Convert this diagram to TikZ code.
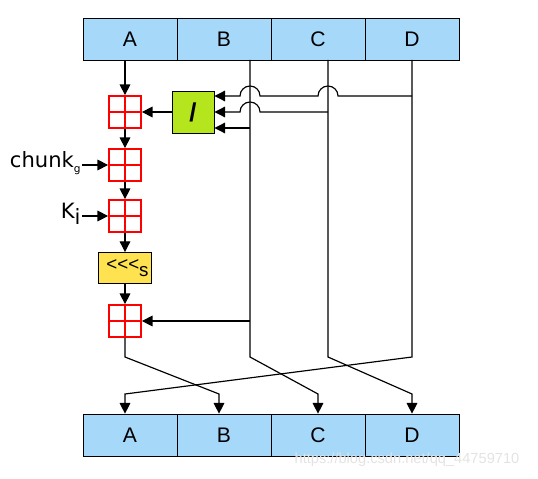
\documentclass[tikz,border=0pt]{standalone}
\usepackage{fontspec}
\setmainfont{Liberation Sans}
\newfontfamily\labelfont{DejaVu Sans}
\usepackage{xcolor}
\usepackage{tikz}
\usetikzlibrary{positioning,calc,arrows.meta}
\definecolor{cellblue}{RGB}{166,216,250}
\definecolor{divgreen}{RGB}{181,230,29}
\definecolor{rotyellow}{RGB}{255,226,80}

\begin{document}
\begin{tikzpicture}[
					x=0.03cm, y=-0.03cm,
					cell/.style={draw, fill=cellblue, line width=0.6pt, minimum width=2.82cm, minimum height=1.26cm, inner sep=0pt, font=\fontsize{18}{20}\selectfont},
					xorbox/.style={draw=red, line width=1.5pt, minimum size=0.96cm, inner sep=0pt, fill=white,
						path picture={\draw[red, line width=1.5pt] (path picture bounding box.north) -- (path picture bounding box.south) (path picture bounding box.west) -- (path picture bounding box.east);}},
					divbox/.style={draw, fill=divgreen, line width=0.8pt, minimum size=1.26cm, inner sep=0pt, font=\bfseries\fontsize{22}{24}\selectfont},
					rotbox/.style={draw, fill=rotyellow, line width=0.8pt, minimum width=1.59cm, minimum height=0.93cm, inner sep=0pt, font=\fontsize{16}{18}\selectfont},
					arrow/.style={-{Triangle[length=0.32cm, width=0.32cm]}, line width=1pt},
					labeltext/.style={font=\labelfont\fontsize{18}{20}\selectfont, inner sep=1pt}
					]
					\useasboundingbox (0,0) rectangle (538,478);
					
					% ===== TOP BAR =====
					\node[cell] (ta) at (130,39) {A};
					\node[cell] (tb) at (224,39) {B};
					\node[cell] (tc) at (318,39) {C};
					\node[cell] (td) at (412,39) {D};
					
					% ===== BOTTOM BAR =====
					\node[cell] (ba) at (130,435) {A};
					\node[cell] (bb) at (224,435) {B};
					\node[cell] (bc) at (318,435) {C};
					\node[cell] (bd) at (412,435) {D};
					
					% ===== A CHAIN =====
					\node[xorbox] (xor1) at (125,112) {};
					\node[xorbox] (xor2) at (125,165) {};
					\node[xorbox] (xor3) at (125,216) {};
					\node[rotbox] (rot)  at (125,268) {\hspace{0.15cm}<{}<{}<\raisebox{-0.55ex}{s}};
					\node[xorbox] (xor4) at (125,321) {};
					\node[divbox] (div)  at (193,112) {/};
					
					\node[labeltext, anchor=east] (chunk) at (82,163) {chunk\raisebox{-0.45ex}{\fontsize{9}{9}\selectfont g}};
					\node[labeltext, anchor=east] (key)   at (82,214) {K\raisebox{-0.5ex}{i}};
					
					% ===== WIRE POINTS =====
					\coordinate (b0) at (250,60);  \coordinate (b1) at (250,357); \coordinate (b2) at (318,394);
					\coordinate (c0) at (328,60);  \coordinate (c1) at (328,357); \coordinate (c2) at (412,394);
					\coordinate (d0) at (412,60);  \coordinate (d1) at (412,357); \coordinate (d2) at (125,394);
					\coordinate (a1) at (125,357); \coordinate (a2) at (219,394);
					\coordinate (in1) at ($(div.east)+(0,-16)$);
					\coordinate (in2) at (div.east);
					\coordinate (in3) at ($(div.east)+(0,16)$);
					
					% ===== ARROWS =====
					\draw[arrow] (xor1 |- ta.south) -- (xor1);
					\draw[arrow] (div) -- (xor1);
					\draw[arrow] (xor1) -- (xor2);
					\draw[arrow] (xor2) -- (xor3);
					\draw[arrow] (xor3) -- (rot);
					\draw[arrow] (rot) -- (xor4);
					\draw[arrow] (chunk.east |- xor2) -- (xor2);
					\draw[arrow] (key.east |- xor3) -- (xor3);
					
					\draw[arrow] (xor4) -- (a1) -- (a2) -- (a2 |- bb.north);
					\draw[arrow] (b0) -- (b1) -- (b2) -- (b2 |- bc.north);
					\draw[arrow] (c0) -- (c1) -- (c2) -- (c2 |- bd.north);
					\draw[arrow] (d0) -- (d1) -- (d2) -- (d2 |- ba.north);
					
					% ===== INTO DIVISION (with jumps) =====
					\draw[arrow] (b0 |- in3) -- (in3);
					\draw[arrow] (c0 |- in2) -- ($(b0 |- in2)+(10,0)$) arc[start angle=0, end angle=180, radius=0.3cm] -- (in2);
					\draw[arrow] (d0 |- in1) -- ($(c0 |- in1)+(10,0)$) arc[start angle=0, end angle=180, radius=0.3cm]
						-- ($(b0 |- in1)+(10,0)$) arc[start angle=0, end angle=180, radius=0.3cm] -- (in1);
					\draw[arrow] (b0 |- xor4) -- (xor4);
					
					% ===== WATERMARK =====
					\node[text=gray!22, font=\fontsize{12.5}{14}\selectfont] (mark) at (407,460) {https://blog.csdn.net/qq\_44759710};
				\end{tikzpicture}
\end{document}
